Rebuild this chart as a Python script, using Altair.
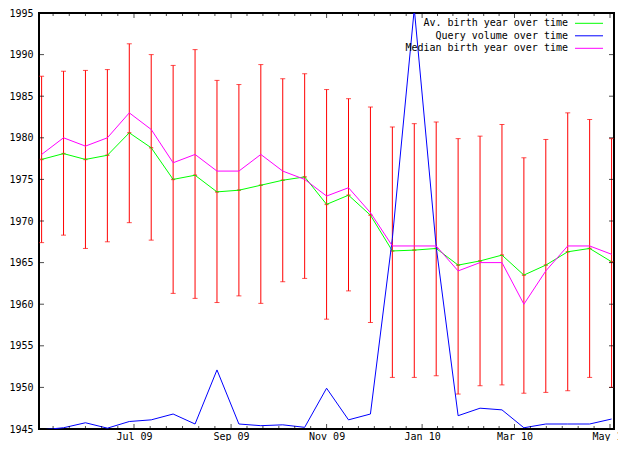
import altair as alt
import pandas as pd
from datetime import datetime, timezone

FONT = "DejaVu Sans Mono"

dates = ["2009-05-03", "2009-05-17", "2009-05-31", "2009-06-14", "2009-06-28",
         "2009-07-12", "2009-07-26", "2009-08-09", "2009-08-23", "2009-09-06",
         "2009-09-20", "2009-10-04", "2009-10-18", "2009-11-01", "2009-11-15",
         "2009-11-29", "2009-12-13", "2009-12-27", "2010-01-10", "2010-01-24",
         "2010-02-07", "2010-02-21", "2010-03-07", "2010-03-21", "2010-04-04",
         "2010-04-18", "2010-05-02"]

avg_year = [1977.4, 1978.1, 1977.4, 1977.9, 1980.6, 1978.8, 1975.0, 1975.5, 1973.5,
            1973.7, 1974.3, 1974.9, 1975.3, 1972.0, 1973.1, 1970.7, 1966.4, 1966.5,
            1966.7, 1964.7, 1965.2, 1965.9, 1963.5, 1964.7, 1966.3, 1966.7, 1965.1]

median_year = [1978, 1980, 1979, 1980, 1983, 1981, 1977, 1978, 1976,
               1976, 1978, 1976, 1975, 1973, 1974, 1971, 1967, 1967,
               1967, 1964, 1965, 1965, 1960, 1964, 1967, 1967, 1966]

err_high = [1987.4, 1988.0, 1988.1, 1988.2, 1991.3, 1990.0, 1988.7, 1990.6, 1986.9,
            1986.4, 1988.8, 1987.1, 1987.7, 1985.8, 1984.7, 1983.7, 1981.3, 1981.7,
            1981.9, 1979.9, 1980.2, 1981.6, 1977.6, 1979.8, 1983.0, 1982.2, 1979.9]

err_low = [1967.4, 1968.3, 1966.7, 1967.5, 1969.8, 1967.7, 1961.3, 1960.7, 1960.2,
           1961.0, 1960.1, 1962.7, 1963.1, 1958.2, 1961.6, 1957.8, 1951.2, 1951.2,
           1951.4, 1949.2, 1950.2, 1950.3, 1949.3, 1949.4, 1949.6, 1951.2, 1950.0]

query_volume = [1944.9, 1945.15, 1945.75, 1945.1, 1945.9, 1946.1, 1946.8, 1945.6, 1952.1,
                1945.6, 1945.4, 1945.5, 1945.2, 1949.9, 1946.1, 1946.8, 1967.9, 1995.5,
                1966.9, 1946.6, 1947.5, 1947.3, 1945.15, 1945.6, 1945.6, 1945.6, 1946.2]

series_names = ["Av. birth year over time", "Query volume over time", "Median birth year over time"]
series_colors = ["#00ff00", "#0000ff", "#ff00ff"]

y_ticks = [1945, 1950, 1955, 1960, 1965, 1970, 1975, 1980, 1985, 1990, 1995]
major_dates = [datetime(2009, 7, 1), datetime(2009, 9, 1), datetime(2009, 11, 1),
               datetime(2010, 1, 1), datetime(2010, 3, 1), datetime(2010, 5, 1)]

W, H = 575, 416
Y_MIN, Y_MAX = 1945, 1995


def ms(dt):
    return int(dt.replace(tzinfo=timezone.utc).timestamp() * 1000)


x_start = ms(datetime(2009, 5, 1, 8, 0))
x_end = ms(datetime(2010, 5, 3, 13, 12))

major_ms = [ms(d) for d in major_dates]
minor_ms = []
step0 = (major_ms[1] - major_ms[0]) / 6
for i in range(1, 7):
    minor_ms.append(major_ms[0] - step0 * i)
for a, b in zip(major_ms[:-1], major_ms[1:]):
    for i in range(1, 6):
        minor_ms.append(a + (b - a) * i / 6)
minor_ms = [int(v) for v in minor_ms if x_start <= v <= x_end]

df = pd.DataFrame({"date": dates, "avg": avg_year, "median": median_year,
                   "hi": err_high, "lo": err_low})

lines_df = pd.concat([
    pd.DataFrame({"date": dates, "value": avg_year, "series": series_names[0]}),
    pd.DataFrame({"date": dates, "value": query_volume, "series": series_names[1]}),
    pd.DataFrame({"date": dates, "value": median_year, "series": series_names[2]}),
])

major_df = pd.DataFrame({"t": major_ms})
minor_df = pd.DataFrame({"t": minor_ms})
ytick_df = pd.DataFrame({"v": y_ticks})

x_scale = alt.Scale(type="utc", domain=[x_start, x_end], nice=False)
y_scale = alt.Scale(domain=[Y_MIN, Y_MAX], nice=False, zero=False)

x_label_axis = alt.Axis(orient="bottom", values=major_ms,
                        labelExpr="utcFormat(datum.value, '%b %y')",
                        ticks=False, domain=False, grid=False, labelPadding=2,
                        labelFont=FONT, labelFontSize=10, labelColor="black",
                        labelFlush=False, labelOverlap=False, title=None)
y_label_axis = alt.Axis(orient="left", values=y_ticks, format="d", ticks=False,
                        domain=False, grid=False, labelPadding=6, labelFont=FONT,
                        labelFontSize=10, labelColor="black", labelFlush=False,
                        labelOverlap=False, title=None)

base = alt.Chart(df)

bars = base.mark_rule(color="#ff0000", strokeWidth=1).encode(
    x=alt.X("date:T", scale=x_scale, axis=x_label_axis),
    y=alt.Y("lo:Q", scale=y_scale, axis=y_label_axis),
    y2="hi:Q",
)

caps_hi = base.mark_tick(color="#ff0000", orient="horizontal", size=5, thickness=1).encode(
    x=alt.X("date:T", scale=x_scale, axis=None),
    y=alt.Y("hi:Q", scale=y_scale, axis=None),
)

caps_lo = base.mark_tick(color="#ff0000", orient="horizontal", size=5, thickness=1).encode(
    x=alt.X("date:T", scale=x_scale, axis=None),
    y=alt.Y("lo:Q", scale=y_scale, axis=None),
)

centers = base.mark_tick(color="#ff0000", orient="horizontal", size=4, thickness=1.5).encode(
    x=alt.X("date:T", scale=x_scale, axis=None),
    y=alt.Y("avg:Q", scale=y_scale, axis=None),
)

lines = alt.Chart(lines_df).mark_line(strokeWidth=1, clip=True).encode(
    x=alt.X("date:T", scale=x_scale, axis=None),
    y=alt.Y("value:Q", scale=y_scale, axis=None),
    color=alt.Color("series:N",
                    scale=alt.Scale(domain=series_names, range=series_colors),
                    legend=None),
    detail="series:N",
)


def x_edge_ticks(data, size, y_edge):
    return alt.Chart(data).mark_tick(orient="vertical", size=size, thickness=1,
                                     color="black", clip=True).encode(
        x=alt.X("t:T", scale=x_scale, axis=None),
        y=alt.YDatum(y_edge, scale=y_scale, axis=None),
    )


def y_edge_ticks(x_edge):
    return alt.Chart(ytick_df).mark_tick(orient="horizontal", size=10, thickness=1,
                                         color="black", clip=True).encode(
        x=alt.XDatum(x_edge, type="temporal", scale=x_scale, axis=None),
        y=alt.Y("v:Q", scale=y_scale, axis=None),
    )


frame_ticks = [
    x_edge_ticks(major_df, 10, Y_MIN), x_edge_ticks(major_df, 10, Y_MAX),
    x_edge_ticks(minor_df, 6, Y_MIN), x_edge_ticks(minor_df, 6, Y_MAX),
    y_edge_ticks(x_start), y_edge_ticks(x_end),
]

# gnuplot-style key in the top-right corner: label right-aligned, sample line after it
key_layers = []
for i, (name, col) in enumerate(zip(series_names, series_colors)):
    row_y = 10.3 + 12.5 * i
    key_df = pd.DataFrame({"series": [name]})
    key_layers.append(
        alt.Chart(key_df).mark_text(align="right", baseline="middle", font=FONT,
                                    fontSize=10, color="black").encode(
            text="series:N", x=alt.value(529), y=alt.value(row_y))
    )
    key_layers.append(
        alt.Chart(key_df).mark_rule(color=col, strokeWidth=1).encode(
            x=alt.value(536), x2=alt.value(564), y=alt.value(row_y))
    )

chart = alt.layer(bars, caps_hi, caps_lo, centers, lines, *frame_ticks, *key_layers).resolve_axis(
    x="independent", y="independent"
).properties(
    width=W, height=H,
    autosize=alt.AutoSizeParams(type="none"),
    padding={"left": 31, "top": 5, "right": 4, "bottom": 12},
).configure_view(stroke="black", strokeWidth=2)

chart.save("out.html", embed_options={"renderer": "svg", "actions": False})
